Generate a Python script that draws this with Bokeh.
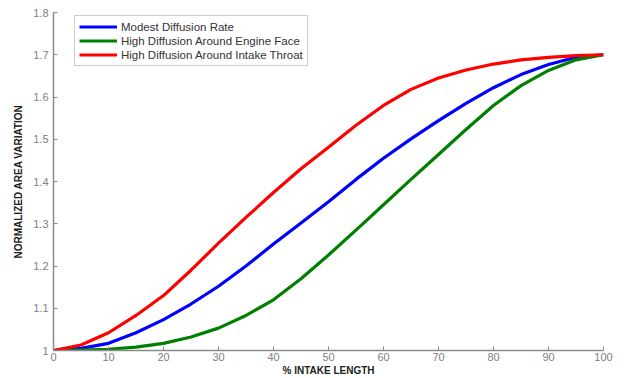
from bokeh.plotting import figure
from bokeh.models import FixedTicker, CustomJSTickFormatter, Range1d, Legend, LegendItem
from bokeh.embed import file_html
from bokeh.resources import INLINE

# % intake length
x_pct = [0, 5, 10, 15, 20, 25, 30, 35, 40, 45, 50, 55, 60, 65, 70, 75, 80, 85, 90, 95, 100]

modest = [1.000, 1.005, 1.017, 1.042, 1.073, 1.110, 1.152, 1.200, 1.252, 1.302, 1.352,
          1.405, 1.455, 1.501, 1.544, 1.585, 1.622, 1.653, 1.677, 1.694, 1.700]
engine_face = [1.000, 1.001, 1.003, 1.008, 1.017, 1.032, 1.053, 1.083, 1.120, 1.170, 1.226,
               1.285, 1.345, 1.405, 1.464, 1.523, 1.580, 1.627, 1.663, 1.688, 1.700]
intake_throat = [1.000, 1.013, 1.042, 1.083, 1.130, 1.190, 1.254, 1.315, 1.374, 1.430, 1.481,
                 1.533, 1.580, 1.618, 1.645, 1.664, 1.678, 1.688, 1.694, 1.698, 1.700]

series_names = ["Modest Diffusion Rate", "High Diffusion Around Engine Face",
                "High Diffusion Around Intake Throat"]
series_colors = ["#0000ff", "#008000", "#ff0000"]

x_ticks = [0, 10, 20, 30, 40, 50, 60, 70, 80, 90, 100]
y_ticks = [1.0, 1.1, 1.2, 1.3, 1.4, 1.5, 1.6, 1.7, 1.8]

p = figure(width=634, height=378, output_backend="svg", toolbar_location=None,
           x_range=Range1d(0, 100), y_range=Range1d(1.0, 1.8),
           min_border_left=53, min_border_right=31, min_border_top=12, min_border_bottom=28)
p.outline_line_color = None
p.grid.visible = False
p.background_fill_color = "white"

renderers = []
for ys, c in zip([modest, engine_face, intake_throat], series_colors):
    r = p.line(x_pct, ys, line_color=c, line_width=3.2, line_join="round")
    renderers.append(r)

legend = Legend(items=[LegendItem(label=n, renderers=[r]) for n, r in zip(series_names, renderers)],
                location=(21, 284))
legend.label_text_font = "Liberation Sans"
legend.label_text_font_size = "11.5px"
legend.label_text_color = "#333333"
legend.glyph_width = 38
legend.glyph_height = 13
legend.label_height = 13
legend.label_standoff = 4
legend.spacing = 1
legend.padding = 4
legend.border_line_color = "#999999"
legend.border_line_width = 1
legend.background_fill_alpha = 1
p.add_layout(legend)

for ax in (p.xaxis[0], p.yaxis[0]):
    ax.axis_line_color = "#8a8a8a"
    ax.axis_line_width = 1.5
    ax.major_tick_line_color = "#8a8a8a"
    ax.major_tick_in = 4
    ax.major_tick_out = 0
    ax.minor_tick_line_color = None
    ax.major_label_text_font = "Liberation Sans"
    ax.major_label_text_font_size = "11px"
    ax.major_label_text_color = "#808080"
    ax.axis_label_text_font = "Liberation Sans"
    ax.axis_label_text_font_size = "10px"
    ax.axis_label_text_font_style = "bold"
    ax.axis_label_text_color = "#222222"

p.xaxis[0].ticker = FixedTicker(ticks=x_ticks)
p.yaxis[0].ticker = FixedTicker(ticks=y_ticks)
p.yaxis[0].formatter = CustomJSTickFormatter(code="return String(Math.round(tick*10)/10);")
p.xaxis[0].axis_label = "% INTAKE LENGTH"
p.yaxis[0].axis_label = "NORMALIZED AREA VARIATION"
p.xaxis[0].major_label_standoff = 2
p.xaxis[0].axis_label_standoff = 1
p.yaxis[0].major_label_standoff = 5
p.yaxis[0].axis_label_standoff = 6

open("out.html", "w").write(file_html(p, INLINE))
